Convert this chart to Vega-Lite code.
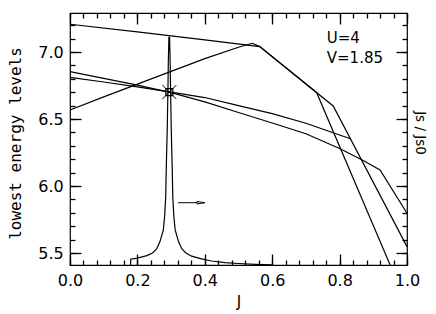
{
  "$schema": "https://vega.github.io/schema/vega-lite/v6.json",
  "width": 337,
  "height": 252,
  "autosize": {"type": "none"},
  "padding": {"left": 70, "top": 13, "right": 29, "bottom": 49},
  "background": "white",
  "config": {
    "view": {"stroke": "black", "strokeWidth": 1.2},
    "axis": {
      "grid": false,
      "domain": false,
      "labelFont": "DejaVu Sans",
      "labelFontSize": 16,
      "labelColor": "black",
      "tickColor": "black",
      "tickWidth": 1.3,
      "titleColor": "black",
      "titleFontWeight": "normal",
      "labelFlush": false,
      "labelOverlap": false
    }
  },
  "datasets": {
    "curves": [
      {"s": "A", "i": 0, "J": 0, "E": 7.207},
      {"s": "A", "i": 1, "J": 0.2, "E": 7.15},
      {"s": "A", "i": 2, "J": 0.4, "E": 7.09},
      {"s": "A", "i": 3, "J": 0.563, "E": 7.04},
      {"s": "A", "i": 4, "J": 0.732, "E": 6.696},
      {"s": "A", "i": 5, "J": 0.95, "E": 5.41},
      {"s": "B", "i": 0, "J": 0, "E": 6.567},
      {"s": "B", "i": 1, "J": 0.1, "E": 6.665},
      {"s": "B", "i": 2, "J": 0.2, "E": 6.76},
      {"s": "B", "i": 3, "J": 0.3, "E": 6.855},
      {"s": "B", "i": 4, "J": 0.4, "E": 6.95},
      {"s": "B", "i": 5, "J": 0.5, "E": 7.035},
      {"s": "B", "i": 6, "J": 0.541, "E": 7.065},
      {"s": "B", "i": 7, "J": 0.563, "E": 7.04},
      {"s": "B", "i": 8, "J": 0.781, "E": 6.597},
      {"s": "B", "i": 9, "J": 1.0, "E": 5.547},
      {"s": "C", "i": 0, "J": 0, "E": 6.853},
      {"s": "C", "i": 1, "J": 0.1, "E": 6.803},
      {"s": "C", "i": 2, "J": 0.2, "E": 6.752},
      {"s": "C", "i": 3, "J": 0.3, "E": 6.697},
      {"s": "C", "i": 4, "J": 0.4, "E": 6.628},
      {"s": "C", "i": 5, "J": 0.5, "E": 6.548},
      {"s": "C", "i": 6, "J": 0.6, "E": 6.47},
      {"s": "C", "i": 7, "J": 0.7, "E": 6.39},
      {"s": "C", "i": 8, "J": 0.8, "E": 6.28},
      {"s": "C", "i": 9, "J": 0.87, "E": 6.19},
      {"s": "C", "i": 10, "J": 0.92, "E": 6.119},
      {"s": "C", "i": 11, "J": 1.0, "E": 5.796},
      {"s": "D", "i": 0, "J": 0, "E": 6.811},
      {"s": "D", "i": 1, "J": 0.1, "E": 6.776},
      {"s": "D", "i": 2, "J": 0.2, "E": 6.74},
      {"s": "D", "i": 3, "J": 0.3, "E": 6.7},
      {"s": "D", "i": 4, "J": 0.4, "E": 6.66},
      {"s": "D", "i": 5, "J": 0.5, "E": 6.6},
      {"s": "D", "i": 6, "J": 0.6, "E": 6.54},
      {"s": "D", "i": 7, "J": 0.7, "E": 6.468},
      {"s": "D", "i": 8, "J": 0.8, "E": 6.38},
      {"s": "D", "i": 9, "J": 0.832, "E": 6.352}
    ],
    "spike": [
      {"i": 0, "J": 0.18, "E": 5.41},
      {"i": 1, "J": 0.18, "E": 5.453},
      {"i": 2, "J": 0.2, "E": 5.461},
      {"i": 3, "J": 0.228, "E": 5.48},
      {"i": 4, "J": 0.245, "E": 5.5},
      {"i": 5, "J": 0.257, "E": 5.53},
      {"i": 6, "J": 0.267, "E": 5.585},
      {"i": 7, "J": 0.277, "E": 5.672},
      {"i": 8, "J": 0.281, "E": 5.78},
      {"i": 9, "J": 0.284, "E": 5.92},
      {"i": 10, "J": 0.286, "E": 6.17},
      {"i": 11, "J": 0.2885, "E": 6.418},
      {"i": 12, "J": 0.2905, "E": 6.7},
      {"i": 13, "J": 0.2917, "E": 6.916},
      {"i": 14, "J": 0.2935, "E": 7.11},
      {"i": 15, "J": 0.2955, "E": 7.11},
      {"i": 16, "J": 0.2973, "E": 6.916},
      {"i": 17, "J": 0.2985, "E": 6.7},
      {"i": 18, "J": 0.3005, "E": 6.418},
      {"i": 19, "J": 0.303, "E": 6.17},
      {"i": 20, "J": 0.305, "E": 5.92},
      {"i": 21, "J": 0.308, "E": 5.78},
      {"i": 22, "J": 0.312, "E": 5.672},
      {"i": 23, "J": 0.322, "E": 5.585},
      {"i": 24, "J": 0.332, "E": 5.53},
      {"i": 25, "J": 0.344, "E": 5.5},
      {"i": 26, "J": 0.361, "E": 5.476},
      {"i": 27, "J": 0.39, "E": 5.456},
      {"i": 28, "J": 0.42, "E": 5.44},
      {"i": 29, "J": 0.46, "E": 5.428},
      {"i": 30, "J": 0.5, "E": 5.421},
      {"i": 31, "J": 0.55, "E": 5.415},
      {"i": 32, "J": 0.6, "E": 5.411}
    ],
    "star": [{"J": 0.2947, "E": 6.701}],
    "arrow": [{"J": 0.321, "J2": 0.377, "H": 0.3887, "E": 5.875}],
    "notes": [
      {"J": 0.762, "E": 7.065, "t": "U=4"},
      {"J": 0.762, "E": 6.916, "t": "V=1.85"}
    ]
  },
  "resolve": {"axis": {"x": "independent", "y": "independent"}},
  "layer": [
    {
      "data": {"name": "curves"},
      "mark": {"type": "line", "color": "black", "strokeWidth": 1.2},
      "encoding": {
        "x": {
          "field": "J", "type": "quantitative",
          "scale": {"domain": [0, 1], "nice": false, "zero": false},
          "axis": {
            "orient": "bottom", "values": [0, 0.2, 0.4, 0.6, 0.8, 1], "format": ".1f",
            "tickSize": -11, "labelPadding": 31.7, "labelBaseline": "alphabetic",
            "title": "J", "titleFont": "DejaVu Sans", "titleFontSize": 15,
            "titleX": 168.5, "titleY": 41.7, "titleBaseline": "alphabetic", "titleAlign": "center"
          }
        },
        "y": {
          "field": "E", "type": "quantitative",
          "scale": {"domain": [5.41, 7.291], "nice": false, "zero": false},
          "axis": {
            "orient": "left", "values": [5.5, 6, 6.5, 7], "format": ".1f",
            "tickSize": -11, "labelPadding": 17.7, "labelBaseline": "alphabetic", "labelOffset": 6,
            "title": "lowest energy levels", "titleFont": "DejaVu Sans Mono", "titleFontSize": 16,
            "titleAngle": -90, "titleX": -50, "titleY": 130, "titleBaseline": "alphabetic", "titleAlign": "center"
          }
        },
        "detail": {"field": "s"},
        "order": {"field": "i", "type": "quantitative"}
      }
    },
    {
      "data": {"name": "spike"},
      "mark": {"type": "line", "color": "black", "strokeWidth": 1.2},
      "encoding": {
        "x": {
          "field": "J", "type": "quantitative",
          "scale": {"domain": [0, 1], "nice": false, "zero": false},
          "axis": {
            "orient": "bottom",
            "values": [0, 0.04, 0.08, 0.12, 0.16, 0.2, 0.24, 0.28, 0.32, 0.36, 0.4, 0.44, 0.48, 0.52, 0.56, 0.6, 0.64, 0.68, 0.72, 0.76, 0.8, 0.84, 0.88, 0.92, 0.96, 1],
            "tickSize": -5, "labels": false, "title": null
          }
        },
        "y": {
          "field": "E", "type": "quantitative",
          "scale": {"domain": [5.41, 7.291], "nice": false, "zero": false},
          "axis": {
            "orient": "left",
            "values": [5.5, 5.6, 5.7, 5.8, 5.9, 6.0, 6.1, 6.2, 6.3, 6.4, 6.5, 6.6, 6.7, 6.8, 6.9, 7.0, 7.1, 7.2],
            "tickSize": -5, "labels": false, "title": null
          }
        },
        "order": {"field": "i", "type": "quantitative"}
      }
    },
    {
      "data": {"name": "star"},
      "mark": {"type": "point", "shape": "square", "size": 49, "filled": false, "color": "black", "strokeWidth": 1.2, "opacity": 1},
      "encoding": {
        "x": {
          "field": "J", "type": "quantitative",
          "scale": {"domain": [0, 1], "nice": false, "zero": false},
          "axis": {"orient": "top", "values": [0, 0.2, 0.4, 0.6, 0.8, 1], "tickSize": -11, "labels": false, "title": null}
        },
        "y": {
          "field": "E", "type": "quantitative",
          "scale": {"domain": [5.41, 7.291], "nice": false, "zero": false},
          "axis": {
            "orient": "right", "values": [5.5, 6, 6.5, 7], "tickSize": -11, "labels": false,
            "title": "Js / Js0", "titleFont": "DejaVu Sans", "titleFontSize": 13.5,
            "titleAngle": 90, "titleX": 8.5, "titleY": 119.5, "titleBaseline": "alphabetic", "titleAlign": "center"
          }
        }
      }
    },
    {
      "data": {"name": "star"},
      "mark": {"type": "point", "shape": "M-1,-1L1,1M-1,1L1,-1", "size": 196, "filled": false, "color": "black", "strokeWidth": 1, "opacity": 1},
      "encoding": {
        "x": {
          "field": "J", "type": "quantitative",
          "scale": {"domain": [0, 1], "nice": false, "zero": false},
          "axis": {
            "orient": "top",
            "values": [0, 0.04, 0.08, 0.12, 0.16, 0.2, 0.24, 0.28, 0.32, 0.36, 0.4, 0.44, 0.48, 0.52, 0.56, 0.6, 0.64, 0.68, 0.72, 0.76, 0.8, 0.84, 0.88, 0.92, 0.96, 1],
            "tickSize": -5, "labels": false, "title": null
          }
        },
        "y": {
          "field": "E", "type": "quantitative",
          "scale": {"domain": [5.41, 7.291], "nice": false, "zero": false},
          "axis": {
            "orient": "right",
            "values": [5.5, 5.6, 5.7, 5.8, 5.9, 6.0, 6.1, 6.2, 6.3, 6.4, 6.5, 6.6, 6.7, 6.8, 6.9, 7.0, 7.1, 7.2],
            "tickSize": -5, "labels": false, "title": null
          }
        }
      }
    },
    {
      "data": {"name": "arrow"},
      "mark": {"type": "rule", "color": "black", "strokeWidth": 1},
      "encoding": {
        "x": {"field": "J", "type": "quantitative", "scale": {"domain": [0, 1], "nice": false, "zero": false}, "axis": null},
        "x2": {"field": "J2"},
        "y": {"field": "E", "type": "quantitative", "scale": {"domain": [5.41, 7.291], "nice": false, "zero": false}, "axis": null}
      }
    },
    {
      "data": {"name": "arrow"},
      "mark": {"type": "point", "shape": "M-1,-0.3L1,0L-1,0.3Z", "size": 64, "filled": true, "fill": "white", "stroke": "black", "strokeWidth": 1, "opacity": 1},
      "encoding": {
        "x": {"field": "H", "type": "quantitative", "scale": {"domain": [0, 1], "nice": false, "zero": false}, "axis": null},
        "y": {"field": "E", "type": "quantitative", "scale": {"domain": [5.41, 7.291], "nice": false, "zero": false}, "axis": null}
      }
    },
    {
      "data": {"name": "notes"},
      "mark": {"type": "text", "align": "left", "baseline": "alphabetic", "font": "DejaVu Sans", "fontSize": 15, "color": "black"},
      "encoding": {
        "x": {"field": "J", "type": "quantitative", "scale": {"domain": [0, 1], "nice": false, "zero": false}, "axis": null},
        "y": {"field": "E", "type": "quantitative", "scale": {"domain": [5.41, 7.291], "nice": false, "zero": false}, "axis": null},
        "text": {"field": "t"}
      }
    }
  ]
}
